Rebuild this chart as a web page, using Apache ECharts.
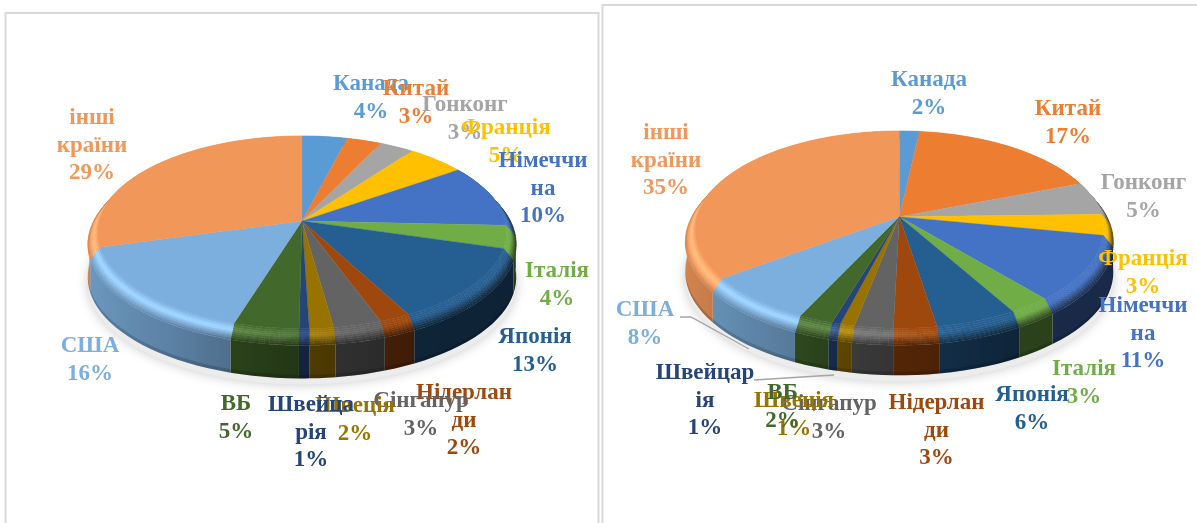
<!DOCTYPE html>
<html>
<head>
<meta charset="utf-8">
<style>html,body{margin:0;padding:0;background:#fff}#c{width:1197px;height:523px}</style>
<script src="https://cdn.jsdelivr.net/npm/echarts@6/dist/echarts.min.js"></script>
</head>
<body>
<div id="c"></div>
<script>
var colors = ['#5B9BD5','#ED7D31','#A5A5A5','#FFC000','#4472C4','#70AD47','#255E91','#9E480E','#636363','#997300','#264478','#43682B','#7CAFDD','#F1975A'];
var countries = ['Канада','Китай','Гонконг','Франція','Німеччина','Італія','Японія','Нідерланди','Сінгапур','Швеція','Швейцарія','ВБ','США','інші країни'];
var valuesLeft  = [4.0,3.05,3.05,5.2,10.4,3.8,12.7,2.2,3.4,1.7,0.7,4.6,15.9,29.3];
var valuesRight = [1.8,17.4,5.4,3.4,10.8,2.9,5.7,3.0,2.7,1.0,0.6,2.4,7.9,35.0];
var namesLeft  = ['Канада','Китай','Гонконг','Франція','Німеччи\nна','Італія','Японія','Нідерлан\nди','Сінгапур','Швеція','Швейца\nрія','ВБ','США','інші\nкраїни'];
var namesRight = ['Канада','Китай','Гонконг','Франція','Німеччи\nна','Італія','Японія','Нідерлан\nди','Сінгапур','Швеція','Швейцар\nія','ВБ','США','інші\nкраїни'];
// label block centres
var labelPosLeft  = [[371,98],[416,103],[465,119],[506,142],[543,189],[557,285],[535,351],[464,421],[421,415],[355,420],[311,433],[236,418],[90,360],[92,146]];
var labelPosRight = [[929,94],[1068,123],[1143.5,197],[1143,273],[1143,334],[1084,383],[1032,409],[936.5,431],[829,418],[794,415],[705,401],[782.6,407],[645,324],[666,161]];

var LEFT  = {cx:302, cy:221, a:212.6, b:99.5, p:0.1228, depth:44, bevel:11, r0:0.955};
var RIGHT = {cx:899.3, cy:216.7, a:212, b:101.5, p:0.137, depth:41, bevel:11, r0:0.955};

function rgb(h){return [parseInt(h.slice(1,3),16),parseInt(h.slice(3,5),16),parseInt(h.slice(5,7),16)];}
function css(c){return 'rgb('+Math.round(Math.min(255,Math.max(0,c[0])))+','+Math.round(Math.min(255,Math.max(0,c[1])))+','+Math.round(Math.min(255,Math.max(0,c[2])))+')';}
function mix(a,b,k){return [a[0]+(b[0]-a[0])*k,a[1]+(b[1]-a[1])*k,a[2]+(b[2]-a[2])*k];}
function scale(c,k){return [c[0]*k,c[1]*k,c[2]*k];}
function sideFactor(X){
  var xs=[-1,-0.5,-0.3,0,0.3,0.5,1], fs=[0.88,0.72,0.63,0.52,0.45,0.38,0.36];
  for(var i=0;i<xs.length-1;i++){ if(X<=xs[i+1]) return fs[i]+(fs[i+1]-fs[i])*(X-xs[i])/(xs[i+1]-xs[i]); }
  return 0.36;
}
function proj(g,r,t,z){
  var X=r*Math.sin(t),Y=-r*Math.cos(t),w=1-g.p*Y;
  return [g.cx+g.a*X/w, g.cy+g.b*Y/w+z];
}
function sideWall(g,face,t0,t1){
  var a=Math.max(t0,Math.PI/2),b=Math.min(t1,3*Math.PI/2);
  if(b<=a) return [];
  var n=Math.max(2,Math.ceil((b-a)/(3*Math.PI/180))),top=[],low=[],edge=[],stops=[];
  var xa=proj(g,1,a,0)[0],xb=proj(g,1,b,0)[0];
  for(var j=0;j<=n;j++){
    var t=a+(b-a)*j/n,p=proj(g,1,t,0);
    top.push(proj(g,1,t,g.bevel));
    low.unshift(proj(g,1,t,g.depth));
    edge.unshift(proj(g,1,t,g.depth-3.5));
    stops.push({offset:Math.max(0,Math.min(1,(p[0]-xa)/((xb-xa)||1))),color:css(scale(face,sideFactor(Math.sin(t))))});
  }
  var botPts=[];
  for(var q=n;q>=0;q--) botPts.push(edge[q]);
  return [
    {type:'polygon',z2:2,silent:true,shape:{points:top.concat(low)},
      style:{fill:{type:'linear',global:true,x:xa,y:0,x2:xb,y2:0,colorStops:stops}}},
    {type:'polygon',z2:2.5,silent:true,shape:{points:botPts.concat(low)},style:{fill:'rgba(0,0,0,0.16)'}}
  ];
}
function pieItem(g,values,names,pos){
  var total=values.reduce(function(s,v){return s+v;},0);
  return function(params,api){
    var i=params.dataIndex,v=api.value(0),before=0;
    for(var k=0;k<i;k++) before+=values[k];
    var t0=before/total*2*Math.PI,t1=(before+v)/total*2*Math.PI;
    var n=Math.max(2,Math.ceil((t1-t0)/(1.2*Math.PI/180))),face=rgb(colors[i]),ch=[];
    if(i===0){
      var sil=[];
      for(var q=0;q<120;q++) sil.push(proj(g,1,q/120*2*Math.PI,g.depth+6));
      ch.push({type:'polygon',z2:1,shape:{points:sil},style:{fill:'#ececec',shadowBlur:12,shadowColor:'rgba(0,0,0,0.22)'},silent:true});
    }
    ch=ch.concat(sideWall(g,face,t0,t1));
    var facePts=[proj(g,0,0,0)];
    for(var j=0;j<n;j++){
      var a=t0+(t1-t0)*j/n,b=t0+(t1-t0)*(j+1)/n,m=(a+b)/2;
      var X=Math.sin(m);
      var side=scale(face,sideFactor(X));
      var lit=Math.max(0,Math.min(1,(0.3-X)/0.6));
      var hi=[face[0]*(1+0.12*lit)+22*lit,face[1]*(1+0.12*lit)+22*lit,face[2]*(1+0.12*lit)+22*lit];
      facePts.push(proj(g,g.r0,a,0));
      var S=8;
      for(var s=0;s<S;s++){
        var s0=s/S,s1=(s+1)/S,sm=(s0+s1)/2;
        var c=sm<0.4?mix(face,hi,sm/0.4):mix(hi,side,(sm-0.4)/0.6);
        var rA=g.r0+(1-g.r0)*s0,rB=g.r0+(1-g.r0)*s1;
        ch.push({type:'polygon',z2:3,silent:true,shape:{points:[proj(g,rA,a,g.bevel*s0),proj(g,rA,b,g.bevel*s0),proj(g,rB,b,g.bevel*s1),proj(g,rB,a,g.bevel*s1)]},
          style:{fill:css(c),stroke:css(c),lineWidth:0.4}});
      }
    }
    facePts.push(proj(g,g.r0,t1,0));
    ch.push({type:'polygon',z2:4,silent:true,shape:{points:facePts},style:{fill:colors[i],stroke:colors[i],lineWidth:0.3}});
    ch.push({type:'text',z2:10+i,silent:true,x:pos[i][0],y:pos[i][1],
      style:{text:names[i]+'\n'+Math.round(v)+'%',x:0,y:0,align:'center',verticalAlign:'middle',fill:colors[i],
        font:'bold 23px "Liberation Serif"',lineHeight:27.5}});
    return {type:'group',children:ch};
  };
}
function seriesFor(g,values,names,pos,label){
  return {type:'custom',name:label,coordinateSystem:'none',silent:true,clip:false,animation:false,
    renderItem:pieItem(g,values,names,pos),
    data:values.map(function(v,i){return {name:countries[i],value:[v]};})};
}
var panelStyle={fill:'#fff',stroke:'#d9d9d9',lineWidth:2};
var leaderStyle={stroke:'#a6a6a6',lineWidth:1.4,fill:'none'};
var chart=echarts.init(document.getElementById('c'),null,{width:1197,height:523});
chart.setOption({
  animation:false,
  backgroundColor:'#fff',
  graphic:[
    {type:'rect',z:-2,silent:true,shape:{x:5.5,y:13,width:593,height:530},style:panelStyle},
    {type:'rect',z:-2,silent:true,shape:{x:602.5,y:5,width:620,height:540},style:panelStyle},
    {type:'polyline',z:20,silent:true,shape:{points:[[680,317],[691,317],[749,349]]},style:leaderStyle},
    {type:'polyline',z:20,silent:true,shape:{points:[[754,380],[834,375]]},style:leaderStyle}
  ],
  series:[
    seriesFor(LEFT,valuesLeft,namesLeft,labelPosLeft,'left'),
    seriesFor(RIGHT,valuesRight,namesRight,labelPosRight,'right')
  ]
});
</script>
</body>
</html>
